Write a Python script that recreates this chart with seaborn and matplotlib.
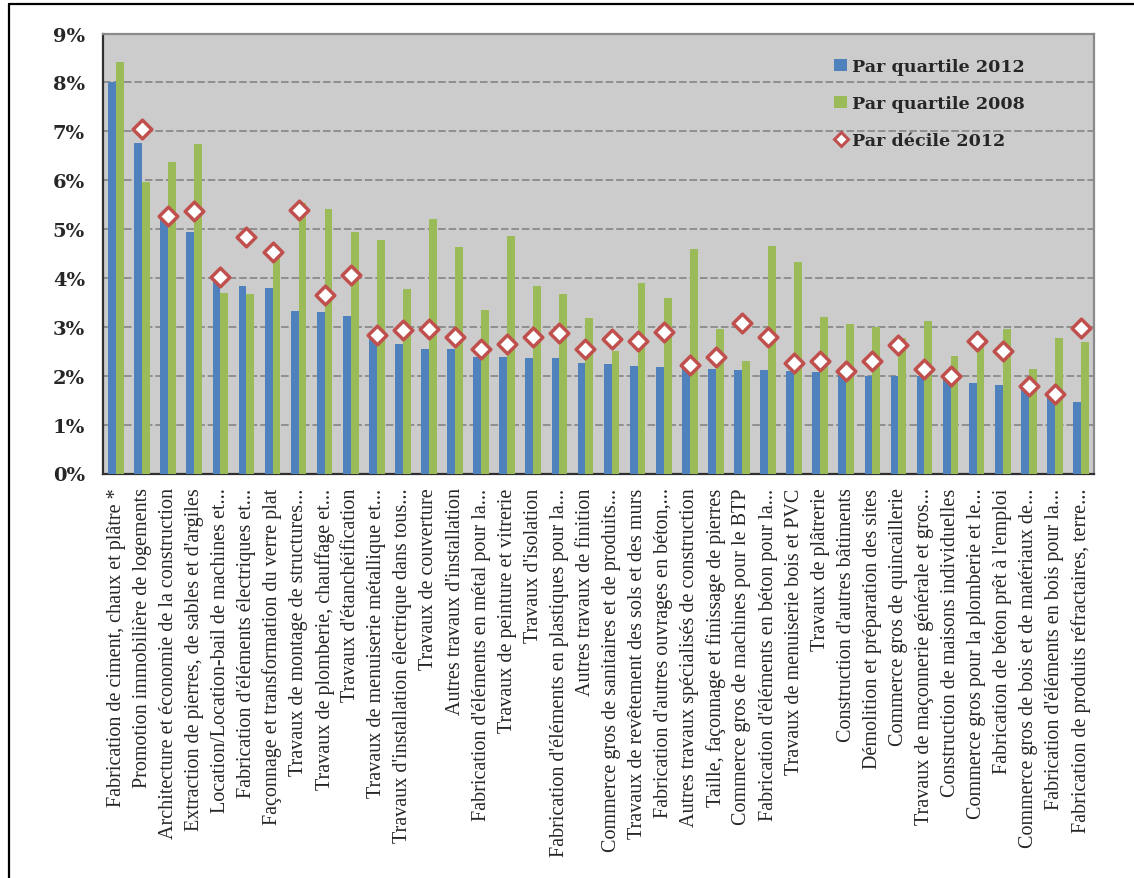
import matplotlib
matplotlib.use("Agg")
import matplotlib.pyplot as plt
from matplotlib.lines import Line2D
from matplotlib.patches import Patch
from matplotlib.ticker import FixedLocator, FuncFormatter
import numpy as np
import pandas as pd
import seaborn as sns

categories = [
    "Fabrication de ciment, chaux et plâtre *",
    "Promotion immobilière de logements",
    "Architecture et économie de la construction",
    "Extraction de pierres, de sables et d'argiles",
    "Location/Location-bail de machines et...",
    "Fabrication d'éléments électriques et...",
    "Façonnage et transformation du verre plat",
    "Travaux de montage de structures...",
    "Travaux de plomberie, chauffage et...",
    "Travaux d'étanchéification",
    "Travaux de menuiserie métallique et...",
    "Travaux d'installation électrique dans tous...",
    "Travaux de couverture",
    "Autres travaux d'installation",
    "Fabrication d'éléments en métal pour la...",
    "Travaux de peinture et vitrerie",
    "Travaux d'isolation",
    "Fabrication d'éléments en plastiques pour la...",
    "Autres travaux de finition",
    "Commerce gros de sanitaires et de produits...",
    "Travaux de revêtement des sols et des murs",
    "Fabrication d'autres ouvrages en béton,...",
    "Autres travaux spécialisés de construction",
    "Taille, façonnage et finissage de pierres",
    "Commerce gros de machines pour le BTP",
    "Fabrication d'éléments en béton pour la...",
    "Travaux de menuiserie bois et PVC",
    "Travaux de plâtrerie",
    "Construction d'autres bâtiments",
    "Démolition et préparation des sites",
    "Commerce gros de quincaillerie",
    "Travaux de maçonnerie générale et gros...",
    "Construction de maisons individuelles",
    "Commerce gros pour la plomberie et le...",
    "Fabrication de béton prêt à l'emploi",
    "Commerce gros de bois et de matériaux de...",
    "Fabrication d'éléments en bois pour la...",
    "Fabrication de produits réfractaires, terre...",
]

quartile_2012 = [8.01, 6.76, 5.21, 4.95, 3.95, 3.83, 3.80, 3.33, 3.31, 3.22,
                 2.76, 2.65, 2.55, 2.55, 2.39, 2.38, 2.36, 2.36, 2.27, 2.24,
                 2.20, 2.18, 2.15, 2.14, 2.12, 2.12, 2.09, 2.07, 2.02, 2.00,
                 1.99, 1.99, 1.95, 1.86, 1.81, 1.73, 1.59, 1.46]

quartile_2008 = [8.42, 5.96, 6.37, 6.74, 3.70, 3.68, 4.50, 5.54, 5.42, 4.93,
                 4.78, 3.77, 5.20, 4.64, 3.34, 4.86, 3.84, 3.67, 3.19, 2.50,
                 3.90, 3.60, 4.60, 2.95, 2.31, 4.66, 4.33, 3.21, 3.06, 3.00,
                 2.78, 3.12, 2.41, 2.62, 2.95, 2.14, 2.78, 2.68]

decile_2012 = [np.nan, 7.05, 5.27, 5.37, 4.02, 4.83, 4.54, 5.39, 3.66, 4.07,
               2.84, 2.93, 2.95, 2.80, 2.55, 2.65, 2.80, 2.87, 2.55, 2.75,
               2.71, 2.89, 2.22, 2.38, 3.08, 2.80, 2.26, 2.31, 2.09, 2.31,
               2.62, 2.14, 1.99, 2.71, 2.51, 1.78, 1.63, 2.98]

y_ticks = [0, 1, 2, 3, 4, 5, 6, 7, 8, 9]
series_names = ["Par quartile 2012", "Par quartile 2008", "Par décile 2012"]

BLUE = "#4F81BD"
GREEN = "#9BBB59"
RED = "#C0504D"
BG = "#CCCCCC"
GRID = "#8A8A8A"

sns.set_style("white")
plt.rcParams["font.family"] = ["DejaVu Serif", "DejaVu Sans"]

bars = pd.DataFrame({
    "cat": categories * 2,
    "val": quartile_2012 + quartile_2008,
    "serie": [series_names[0]] * len(categories) + [series_names[1]] * len(categories),
})
dec = pd.DataFrame({"cat": categories, "val": decile_2012})

fig = plt.figure(figsize=(11.34, 8.79), dpi=100)
ax = fig.add_axes([103 / 1134, 1 - 474.5 / 879, (1094 - 103) / 1134, (474.5 - 34.5) / 879])
ax.set_facecolor(BG)

sns.barplot(data=bars, x="cat", y="val", hue="serie", order=categories,
            hue_order=series_names[:2], palette=[BLUE, GREEN],
            width=0.6, linewidth=0, saturation=1, legend=False, ax=ax, zorder=3)

sns.stripplot(data=dec, x="cat", y="val", order=categories, jitter=False,
              marker="D", size=9.5, color="white", edgecolor=RED,
              linewidth=2.5, ax=ax, zorder=4)

n = len(categories)
ax.set_xlim(-0.5, n - 0.5)
ax.set_ylim(0, 9)
ax.yaxis.set_major_locator(FixedLocator(y_ticks))
ax.yaxis.set_major_formatter(FuncFormatter(lambda v, p: f"{v:.0f}%"))
for t in y_ticks[1:-1]:
    ax.axhline(t, color=GRID, lw=1.3, ls=(0, (4.2, 1.6)), zorder=1)

ax.set_xlabel("")
ax.set_ylabel("")
ax.set_xticks(range(n))
ax.set_xticklabels(categories, rotation=90, fontsize=14.5,
                   fontfamily=["Liberation Serif", "DejaVu Serif"])
ax.tick_params(axis="x", which="major", length=0, pad=10)
ax.set_xticks(np.arange(-0.5, n, 1.0), minor=True)
ax.tick_params(axis="x", which="minor", length=7, width=1.2, color="#404040", direction="out")
ax.tick_params(axis="y", length=7, width=1.2, color="#404040", direction="out", pad=6)
for lab in ax.get_yticklabels():
    lab.set_fontweight("bold")
    lab.set_fontsize(14)
    lab.set_fontfamily("DejaVu Serif")

for s in ["left", "bottom"]:
    ax.spines[s].set_color("#303030")
    ax.spines[s].set_linewidth(1.6)
for s in ["top", "right"]:
    ax.spines[s].set_color(GRID)
    ax.spines[s].set_linewidth(1.6)

handles = [
    Patch(facecolor=BLUE, edgecolor="none", label=series_names[0]),
    Patch(facecolor=GREEN, edgecolor="none", label=series_names[1]),
    Line2D([], [], marker="D", ls="none", markersize=7.5, markerfacecolor="white",
           markeredgecolor=RED, markeredgewidth=2.2, label=series_names[2]),
]
leg = ax.legend(handles=handles, loc="upper left", bbox_to_anchor=(0.722, 0.98),
                frameon=False, labelspacing=1.15, handlelength=0.72, handleheight=0.72,
                handletextpad=0.3, prop={"family": "DejaVu Serif", "weight": "bold", "size": 12.6})

# figure border (left and top)
fig.add_artist(Line2D([9 / 1134, 9 / 1134], [0, 1 - 5 / 879], transform=fig.transFigure,
                      color="black", lw=1.6))
fig.add_artist(Line2D([9 / 1134, 1], [1 - 5 / 879, 1 - 5 / 879], transform=fig.transFigure,
                      color="black", lw=1.6))

fig.savefig("out.png", dpi=100, facecolor="white")
